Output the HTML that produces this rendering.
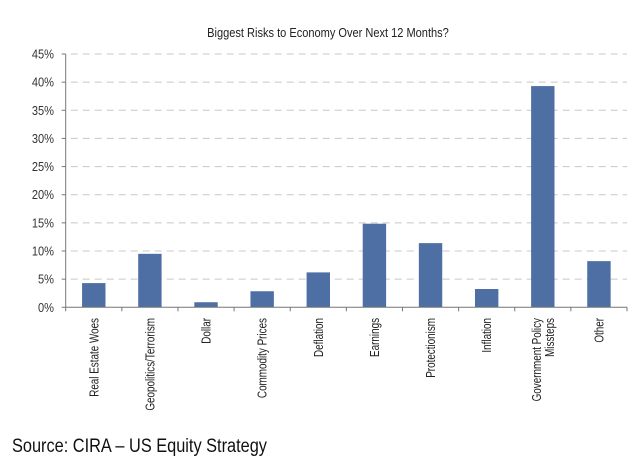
<!DOCTYPE html>
<html><head><meta charset="utf-8"><style>
body{margin:0;background:#fff;width:640px;height:461px;overflow:hidden}
svg{font-family:"Liberation Sans Narrow","Liberation Sans",sans-serif}
</style></head><body>
<svg id="c" width="640" height="461">
<text x="328" y="37" text-anchor="middle" font-size="13" fill="#222" transform="translate(328,0) scale(0.85,1) translate(-328,0)">Biggest Risks to Economy Over Next 12 Months?</text>
<g id="grid"></g><g id="bars"></g><g id="axes"></g>
<text x="12" y="452" font-family="Liberation Sans, sans-serif" font-size="19" fill="#111" transform="translate(12,0) scale(0.86,1) translate(-12,0)">Source: CIRA – US Equity Strategy</text>
</svg>
<script>
const categories=[["Real Estate Woes"],["Geopolitics/Terrorism"],["Dollar"],["Commodity Prices"],["Deflation"],["Earnings"],["Protectionism"],["Inflation"],["Government Policy","Missteps"],["Other"]];
const values=[4.3,9.5,0.9,2.85,6.2,14.85,11.4,3.25,39.3,8.2];
const ticks=[0,5,10,15,20,25,30,35,40,45];
const tickLabels=["0%","5%","10%","15%","20%","25%","30%","35%","40%","45%"];
const NS="http://www.w3.org/2000/svg";
const L=65.7,R=627,T=54,B=307.3,MAX=45;
const y=v=>B-(v/MAX)*(B-T);
const slot=(R-L)/categories.length;
const x=i=>L+slot*(i+0.5);
function mk(t,a,p){const e=document.createElementNS(NS,t);for(const k in a)e.setAttribute(k,a[k]);p.appendChild(e);return e;}
const grid=document.getElementById('grid'),bars=document.getElementById('bars'),axes=document.getElementById('axes');
ticks.forEach((t,i)=>{
 if(t>0){const g=mk('line',{x1:L+5,x2:R,y1:y(t),y2:y(t),stroke:'#c8c8c8','stroke-width':1,'stroke-dasharray':'7,5'},grid);
 
 }
 const tl=mk('text',{x:0,y:0,'text-anchor':'end','font-size':13,fill:'#333',transform:`translate(54,${y(t)+4.5}) scale(0.85,1)`},axes);
 tl.textContent=tickLabels[i];
 
 
 mk('line',{x1:L-4,x2:L,y1:y(t),y2:y(t),stroke:'#777'},axes);
});
values.forEach((v,i)=>{
 const b=mk('rect',{x:x(i)-11.7,y:y(v),width:23.4,height:B-y(v),fill:'#4e6fa3'},bars);
 
 
 const lines=categories[i];
 lines.forEach((s,j)=>{
  const lx=x(i)+4.5-(lines.length-1)*6.5+j*13;
  const t=mk('text',{x:0,y:0,'text-anchor':'end','font-size':13,fill:'#222',transform:`translate(${lx},318) rotate(-90) scale(0.76,1)`},axes);
  t.textContent=s;
  
  
 });
});
for(let i=0;i<=categories.length;i++){mk('line',{x1:L+slot*i,x2:L+slot*i,y1:B,y2:B+4,stroke:'#777'},axes);}
const ya=mk('line',{x1:L,x2:L,y1:T,y2:B,stroke:'#777'},axes);


const xa=mk('line',{x1:L,x2:R,y1:B,y2:B,stroke:'#777'},axes);


</script>
</body></html>
